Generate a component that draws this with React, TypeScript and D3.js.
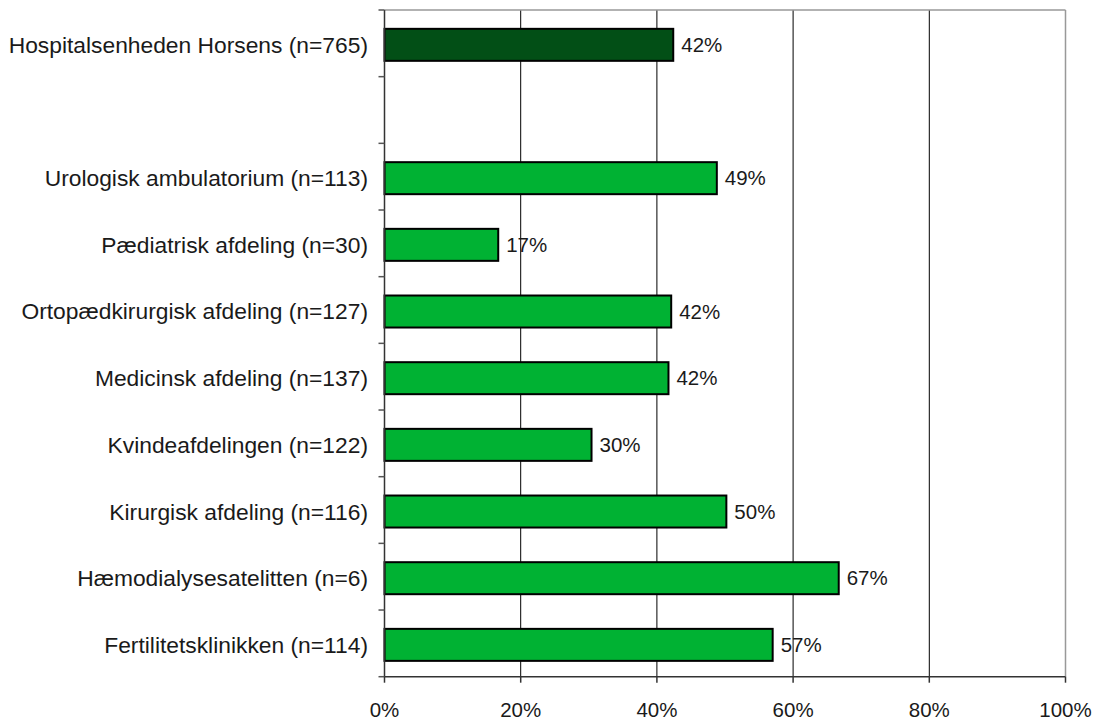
import React from "react";
import * as d3 from "d3";

const categories: string[] = [
  "Hospitalsenheden Horsens (n=765)",
  "",
  "Urologisk ambulatorium (n=113)",
  "Pædiatrisk afdeling (n=30)",
  "Ortopædkirurgisk afdeling (n=127)",
  "Medicinsk afdeling (n=137)",
  "Kvindeafdelingen (n=122)",
  "Kirurgisk afdeling (n=116)",
  "Hæmodialysesatelitten (n=6)",
  "Fertilitetsklinikken (n=114)",
];
const values: (number | null)[] = [0.424, null, 0.488, 0.167, 0.421, 0.417, 0.304, 0.502, 0.667, 0.57];
const highlight: boolean[] = [true, false, false, false, false, false, false, false, false, false];
const xTicks: number[] = [0, 0.2, 0.4, 0.6, 0.8, 1];

const W = 1099;
const H = 724;
const left = 384.5;
const right = 1065.5;
const top = 10;
const bottom = 676.7;
const FONT = "'Liberation Sans', Arial, sans-serif";

export default function App() {
  const x = d3.scaleLinear().domain([0, 1]).range([left, right]);
  const idx = categories.map((_, i) => String(i));
  const y = d3.scaleBand<string>().domain(idx).range([top, bottom]).paddingInner(0.52).paddingOuter(0.26);
  const fmt = d3.format(".0%");
  const step = y.step();
  const boundaries = d3.range(categories.length + 1).map((i) => top + i * step);
  const barShift = 1.5;

  return (
    <svg width={W} height={H} style={{ position: "absolute", left: 0, top: 0, background: "#fff" }}>
      {/* gridlines */}
      {xTicks.filter((t) => t > 0 && t < 1).map((t) => (
        <line key={"g" + t} x1={x(t)} x2={x(t)} y1={top} y2={bottom} stroke="#000" strokeWidth={1} />
      ))}
      {/* top and right border */}
      <line x1={left} x2={right} y1={top} y2={top} stroke="#999" strokeWidth={1.5} />
      <line x1={right} x2={right} y1={top} y2={bottom} stroke="#999" strokeWidth={1.5} />
      {/* bars */}
      {values.map((v, i) =>
        v == null ? null : (
          <g key={"b" + i}>
            <rect
              x={x(0)}
              y={(y(String(i)) as number) + barShift}
              width={x(v) - x(0)}
              height={y.bandwidth()}
              fill={highlight[i] ? "#024f16" : "#00b233"}
              stroke="#000"
              strokeWidth={2}
            />
            <text
              x={x(v) + 8}
              y={(y(String(i)) as number) + barShift + y.bandwidth() / 2}
              dy="0.35em"
              fontFamily={FONT}
              fontSize={20.5}
              fill="#1a1a1a"
            >
              {fmt(v)}
            </text>
          </g>
        )
      )}
      {/* left axis */}
      <line x1={left} x2={left} y1={top} y2={bottom} stroke="#333" strokeWidth={1.5} />
      {boundaries.map((b, i) => (
        <line key={"yt" + i} x1={left - 6} x2={left} y1={b} y2={b} stroke="#555" strokeWidth={1.5} />
      ))}
      {categories.map((c, i) =>
        c ? (
          <text
            key={"c" + i}
            x={368}
            y={(y(String(i)) as number) + barShift + y.bandwidth() / 2}
            dy="0.35em"
            textAnchor="end"
            fontFamily={FONT}
            fontSize={22.8}
            fill="#1a1a1a"
          >
            {c}
          </text>
        ) : null
      )}
      {/* bottom axis */}
      <line x1={left} x2={right} y1={bottom} y2={bottom} stroke="#333" strokeWidth={1.5} />
      {xTicks.map((t) => (
        <g key={"xt" + t}>
          <line x1={x(t)} x2={x(t)} y1={bottom} y2={bottom + 6} stroke="#333" strokeWidth={1.5} />
          <text
            x={x(t)}
            y={bottom + 33}
            dy="0.35em"
            textAnchor="middle"
            fontFamily={FONT}
            fontSize={20.5}
            fill="#1a1a1a"
          >
            {fmt(t)}
          </text>
        </g>
      ))}
    </svg>
  );
}
